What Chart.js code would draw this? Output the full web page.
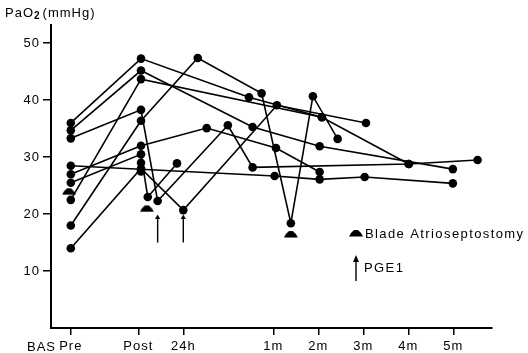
<!DOCTYPE html>
<html>
<head>
  <title>PaO2 before and after BAS</title>
  <script src="https://cdn.jsdelivr.net/npm/chart.js@4.4.0/dist/chart.umd.min.js"></script>
  <style>
    body { margin: 0; background: #fff; }
  </style>
</head>
<body>
  <canvas id="paoChart" width="528" height="353"></canvas>

  <script>
    // time axis in plain units: Pre = 0, Post = 1.5, 24h = 2.5, then one unit per month
    const tickPos = [0, 1.5, 2.5, 4.5, 5.5, 6.5, 7.5, 8.5];
    const tickLabels = ['Pre', 'Post', '24h', '1m', '2m', '3m', '4m', '5m'];
    const yTicks = [10, 20, 30, 40, 50];

    // one list per patient, [time, PaO2]
    const pat1 = [[0, 36], [1.56, 47.3], [3.96, 40.5], [5.58, 37.0]];
    const pat2 = [[0, 34.7], [1.56, 45.2], [4.04, 35.3], [5.53, 31.9], [8.49, 27.9]];
    const pat3 = [[0, 33.3], [1.56, 38.3], [1.93, 22.3], [3.49, 35.6], [4.04, 28.2], [7.51, 28.8], [9.04, 29.5]];
    const pat4 = [[0, 28.5], [4.53, 26.7], [5.53, 26.1], [6.53, 26.5], [8.49, 25.4]];
    const pat5 = [[0, 27], [1.56, 32], [3.02, 35.1], [4.56, 31.6], [5.53, 27.4]];
    const pat6 = [[0, 18], [1.56, 36.4], [2.82, 47.4], [4.24, 41.2], [4.89, 18.4], [5.38, 40.7], [5.93, 33.2]];
    const pat7 = [[0, 22.5], [1.56, 43.7], [5.58, 37.0], [7.51, 28.8]];
    const pat8 = [[0, 25.5], [1.56, 30.5], [1.71, 23.0], [2.36, 28.9]];
    const pat9 = [[0, 14], [1.56, 28], [2.5, 20.7], [4.58, 39.1], [6.56, 36.0]];
    const pat10 = [[1.56, 29], [1.56, 27.5]];

    // blade atrioseptostomy markers and PGE1 arrows
    const bladeX = [-0.04, 1.69, 4.89];
    const bladeY = [24.0, 21.0, 16.5];
    const pgeX = [1.93, 2.5];
    const pgeFrom = 15.0;
    const pgeTo = 19.4;

    const FONT = 'Liberation Sans, Arial, sans-serif';

    // small "hat" shaped marker for BAS
    const blade = document.createElement('canvas');
    blade.width = 14; blade.height = 8;
    (function () {
      const c = blade.getContext('2d');
      c.fillStyle = '#000';
      c.beginPath();
      c.moveTo(0, 7.5);
      c.lineTo(2, 4);
      c.lineTo(5, 1);
      c.lineTo(9, 1);
      c.lineTo(12, 4);
      c.lineTo(14, 7.5);
      c.closePath();
      c.fill();
    })();

    const patients = [pat1, pat2, pat3, pat4, pat5, pat6, pat7, pat8, pat9, pat10];
    const datasets = patients.map(p => ({
      data: p.map(d => ({ x: d[0], y: d[1] })),
      borderColor: '#000',
      backgroundColor: '#000',
      borderWidth: 1.6,
      pointRadius: 4.3,
      pointBorderWidth: 0,
      showLine: true,
      fill: false
    }));

    datasets.push({
      data: bladeX.map((x, i) => ({ x: x, y: bladeY[i] })),
      pointStyle: blade,
      showLine: false
    });

    pgeX.forEach(x => {
      datasets.push({
        data: [{ x: x, y: pgeFrom }, { x: x, y: pgeTo }],
        borderColor: '#000',
        backgroundColor: '#000',
        borderWidth: 1.4,
        pointStyle: 'triangle',
        pointRadius: [0, 3],
        pointBorderWidth: 0,
        showLine: true
      });
    });

    const textPlugin = {
      id: 'texts',
      beforeDraw(chart) {
        chart.ctx.letterSpacing = '1px';
      },
      afterDraw(chart) {
        const ctx = chart.ctx;
        ctx.save();
        ctx.fillStyle = '#000';
        ctx.strokeStyle = '#000';
        ctx.textAlign = 'left';
        ctx.textBaseline = 'alphabetic';

        // axis title
        ctx.font = '13px ' + FONT;
        ctx.fillText('PaO', 5, 17);
        let w = ctx.measureText('PaO').width;
        ctx.font = 'bold 10px ' + FONT;
        ctx.fillText('2', 5 + w, 19);
        w += ctx.measureText('2').width + 2;
        ctx.font = '13px ' + FONT;
        ctx.fillText('(mmHg)', 5 + w, 17);

        // BAS on the time axis, ending just left of "Pre"
        ctx.textAlign = 'right';
        ctx.textBaseline = 'middle';
        ctx.fillText('BAS', 56, 347);
        ctx.textAlign = 'left';

        // legend
        ctx.letterSpacing = '1.4px';
        ctx.drawImage(blade, 349, 229);
        ctx.fillText('Blade Atrioseptostomy', 365, 234);
        ctx.fillText('PGE1', 364, 268);
        ctx.lineWidth = 1.4;
        ctx.beginPath();
        ctx.moveTo(356, 281);
        ctx.lineTo(356, 259);
        ctx.stroke();
        ctx.beginPath();
        ctx.moveTo(353, 262);
        ctx.lineTo(356, 255);
        ctx.lineTo(359, 262);
        ctx.closePath();
        ctx.fill();
        ctx.restore();
      }
    };

    new Chart(document.getElementById('paoChart'), {
      type: 'scatter',
      data: { datasets: datasets },
      options: {
        responsive: false,
        animation: false,
        layout: { padding: { top: 25, right: 36, left: 0, bottom: 0 } },
        plugins: { legend: { display: false }, tooltip: { enabled: false } },
        scales: {
          x: {
            type: 'linear',
            min: -0.44,
            max: 9.36,
            afterBuildTicks: s => { s.ticks = tickPos.map(v => ({ value: v })); },
            afterFit: s => { s.height = 25; },
            ticks: {
              callback: v => tickLabels[tickPos.indexOf(v)],
              color: '#000',
              font: { family: FONT, size: 13 },
              padding: 4,
              maxRotation: 0,
              autoSkip: false
            },
            grid: { drawOnChartArea: false, color: '#000', lineWidth: 1.5, tickLength: 7 },
            border: { color: '#000', width: 2 }
          },
          y: {
            min: 0,
            max: 53.2,
            afterBuildTicks: s => { s.ticks = yTicks.map(v => ({ value: v })); },
            afterFit: s => { s.width = 51; },
            ticks: {
              color: '#000',
              font: { family: FONT, size: 13 },
              padding: 3
            },
            grid: { drawOnChartArea: false, color: '#000', lineWidth: 1.5, tickLength: 8 },
            border: { color: '#000', width: 2 }
          }
        }
      },
      plugins: [textPlugin]
    });
  </script>
</body>
</html>
